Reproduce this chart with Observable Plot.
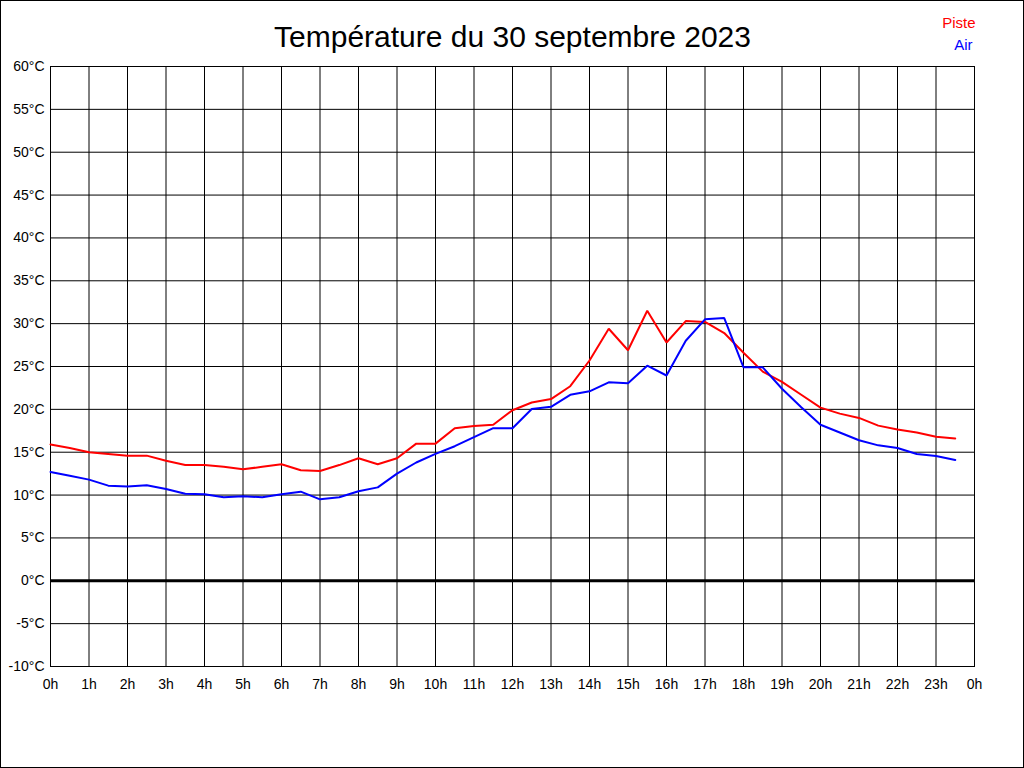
<!DOCTYPE html>
<html>
<head>
<meta charset="utf-8">
<script src="https://cdn.jsdelivr.net/npm/d3@7"></script>
<script src="https://cdn.jsdelivr.net/npm/@observablehq/plot@0.6"></script>
<style>
  html, body { margin: 0; padding: 0; background: #fff; }
  #chart { position: relative; width: 1024px; height: 768px; box-sizing: border-box; overflow: hidden; }
  #chart::after { content: ""; position: absolute; inset: 0; border: 1px solid #000; pointer-events: none; }
  svg { display: block; }
</style>
</head>
<body>
<div id="chart"></div>
<script>
const title = "Température du 30 septembre 2023";
const hours = [0,0.5,1,1.5,2,2.5,3,3.5,4,4.5,5,5.5,6,6.5,7,7.5,8,8.5,9,9.5,10,10.5,11,11.5,
               12,12.5,13,13.5,14,14.5,15,15.5,16,16.5,17,17.5,18,18.5,19,19.5,20,20.5,21,21.5,22,22.5,23,23.5];
const piste = [15.9,15.5,15.0,14.8,14.6,14.6,14.0,13.5,13.5,13.3,13.0,13.3,13.6,12.9,12.8,13.5,14.3,13.6,14.3,16.0,16.0,17.8,18.05,18.2,
               19.9,20.8,21.2,22.7,25.7,29.4,26.9,31.5,27.8,30.3,30.2,28.9,26.6,24.4,23.2,21.7,20.2,19.5,19.0,18.1,17.65,17.3,16.8,16.6];
const air   = [12.7,12.25,11.8,11.1,11.0,11.15,10.7,10.15,10.1,9.75,9.85,9.75,10.1,10.4,9.5,9.75,10.45,10.9,12.5,13.8,14.8,15.7,16.75,17.8,
               17.8,20.05,20.3,21.7,22.1,23.15,23.05,25.1,23.95,28.0,30.5,30.65,24.9,24.9,22.4,20.25,18.2,17.3,16.4,15.8,15.5,14.8,14.55,14.1];
const xTicks = [0,1,2,3,4,5,6,7,8,9,10,11,12,13,14,15,16,17,18,19,20,21,22,23,24];
const yTicks = [-10,-5,0,5,10,15,20,25,30,35,40,45,50,55,60];
const seriesNames = ["Piste", "Air"];
const seriesColors = ["#ff0000", "#0000ff"];

const rows = [];
hours.forEach((h, i) => {
  rows.push({h, t: piste[i], s: seriesNames[0]});
  rows.push({h, t: air[i], s: seriesNames[1]});
});

const font = "'Liberation Sans', Arial, sans-serif";

const chart = Plot.plot({
  width: 1024,
  height: 768,
  marginLeft: 50,
  marginRight: 50,
  marginTop: 66,
  marginBottom: 102,
  style: {fontFamily: font, fontSize: "14px", background: "#fff", color: "#000"},
  x: {domain: [0, 24], ticks: xTicks, tickFormat: d => (d % 24) + "h", tickSize: 0, tickPadding: 13, label: null},
  y: {domain: [-10, 60], ticks: yTicks, tickFormat: d => d + "°C", tickSize: 0, tickPadding: 6, label: null},
  color: {domain: seriesNames, range: seriesColors},
  marks: [
    Plot.ruleX(xTicks, {stroke: "#000", strokeWidth: 1, strokeOpacity: 1}),
    Plot.ruleY(yTicks, {stroke: "#000", strokeWidth: 1, strokeOpacity: 1}),
    Plot.ruleY([0], {stroke: "#000", strokeWidth: 3}),
    Plot.frame({stroke: "#000", strokeWidth: 1}),
    Plot.line(rows, {x: "h", y: "t", z: "s", stroke: "s", strokeWidth: 2, strokeLinejoin: "miter", curve: "linear"}),
    Plot.text([title], {frameAnchor: "top", dy: -20, text: d => d, fontSize: 30, fill: "#000", lineAnchor: "bottom"}),
    Plot.text([seriesNames[0]], {frameAnchor: "top-right", dx: 1, dy: -39, text: d => d, fontSize: 15, fill: seriesColors[0], textAnchor: "end", lineAnchor: "bottom"}),
    Plot.text([seriesNames[1]], {frameAnchor: "top-right", dx: -2, dy: -17, text: d => d, fontSize: 15, fill: seriesColors[1], textAnchor: "end", lineAnchor: "bottom"})
  ]
});
document.getElementById("chart").appendChild(chart);
</script>
</body>
</html>
